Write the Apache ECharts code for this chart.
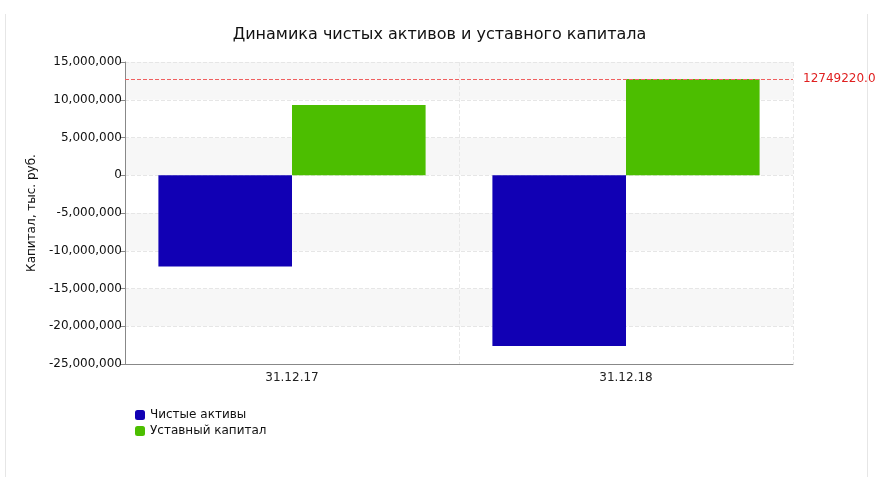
<!DOCTYPE html>
<html><head><meta charset="utf-8">
<script src="https://cdn.jsdelivr.net/npm/echarts@6/dist/echarts.min.js"></script>
<style>html,body{margin:0;padding:0;background:#fff}#c{width:879px;height:477px}
#f{position:absolute;left:5px;top:14px;width:861px;height:470px;border-left:1px solid #e6e6e6;border-right:1px solid #e6e6e6}</style>
</head><body><div id="f"></div><div id="c" style="position:absolute;left:0;top:0"></div>
<script>
const categories = ['31.12.17', '31.12.18'];
const netAssets = [-12100000, -22600000];
const charterCapital = [9300000, 12749220];
const refLine = 12749220;
const font = 'Verdana, "DejaVu Sans", sans-serif';
const chart = echarts.init(document.getElementById('c'));
chart.setOption({
  animation: false,
  title: {text: 'Динамика чистых активов и уставного капитала', left: 'center', top: 22,
    textStyle: {fontFamily: font, fontSize: 16, fontWeight: 'normal', color: '#111'}},
  grid: {left: 125, right: 86, top: 62, bottom: 113},
  legend: {orient: 'vertical', left: 130, top: 404, itemWidth: 10, itemHeight: 10, itemGap: 4,
    textStyle: {fontFamily: font, fontSize: 12, color: '#111'},
    data: ['Чистые активы', 'Уставный капитал']},
  xAxis: {type: 'category', data: categories,
    axisLine: {onZero: false, lineStyle: {color: '#888'}}, axisTick: {show: false},
    axisLabel: {fontFamily: font, fontSize: 12, color: '#222'},
    splitLine: {show: true, interval: 0, lineStyle: {type: 'dashed', color: '#e8e8e8'}}},
  yAxis: {type: 'value', min: -25000000, max: 15000000, interval: 5000000,
    name: 'Капитал, тыс. руб.', nameLocation: 'middle', nameGap: 78,
    nameTextStyle: {fontFamily: font, fontSize: 12, color: '#111'},
    axisLine: {show: true, lineStyle: {color: '#888'}}, axisTick: {show: true, lineStyle: {color: '#888'}},
    axisLabel: {fontFamily: font, fontSize: 12, color: '#111', margin: 3},
    splitLine: {lineStyle: {type: 'dashed', color: '#e6e6e6'}},
    splitArea: {show: true, areaStyle: {color: ['#ffffff', '#f7f7f7']}}},
  series: [
    {name: 'Чистые активы', type: 'bar', data: netAssets, barGap: '0%', barCategoryGap: '20%',
     itemStyle: {color: '#1100b4'}},
    {name: 'Уставный капитал', type: 'bar', data: charterCapital,
     itemStyle: {color: '#4cbe00'},
     markLine: {symbol: 'none', silent: true, data: [{yAxis: refLine}],
       lineStyle: {color: '#f06060', type: 'dashed', width: 1},
       label: {position: 'end', formatter: '12749220.0', color: '#e02020', fontFamily: font, fontSize: 12, distance: 10}}}
  ]
});
</script></body></html>
